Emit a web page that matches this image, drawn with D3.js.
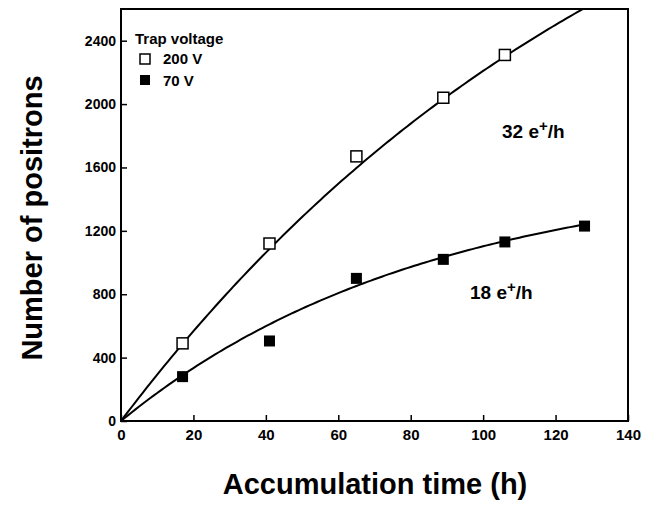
<!DOCTYPE html>
<html><head><meta charset="utf-8">
<script src="https://d3js.org/d3.v7.min.js"></script>
<style>body{margin:0;background:#fff}text{font-family:"Liberation Sans",Arial,sans-serif;font-weight:bold}</style>
</head><body><svg id="c" width="659" height="508"></svg>
<script>
const xTicks = [0,20,40,60,80,100,120,140];
const yTicks = [0,400,800,1200,1600,2000,2400];
const t200 = [17,41,65,89,106];
const n200 = [490,1120,1670,2040,2310];
const t70 = [17,41,65,89,106,128];
const n70 = [280,505,900,1020,1130,1230];
// saturating fits N = A(1 - exp(-t/tau))
const fit200 = {A:4540, tau:150};
const fit70 = {A:1594, tau:85};

const svg = d3.select("#c");
const x = d3.scaleLinear().domain([0,140]).range([121,628]);
const y = d3.scaleLinear().domain([0,2600]).range([421,9]);
const g = svg.append("g");
g.append("rect").attr("x",121).attr("y",9).attr("width",507).attr("height",412)
 .attr("fill","none").attr("stroke","#000").attr("stroke-width",2);
const xa = g.append("g").attr("transform","translate(0,421)").call(d3.axisBottom(x).tickValues(xTicks).tickSize(-6).tickPadding(8).tickFormat(d3.format("d")));
const ya = g.append("g").attr("transform","translate(121,0)").call(d3.axisLeft(y).tickValues(yTicks).tickSize(-6).tickPadding(5).tickFormat(d3.format("d")));
[xa,ya].forEach(a=>{a.select(".domain").remove();a.selectAll("line").attr("stroke-width",1.5);a.selectAll("text").attr("font-size",15).attr("font-family","Liberation Sans").attr("font-weight","bold");});
ya.selectAll("text").attr("font-size",14);

const line = d3.line().x(d=>x(d[0])).y(d=>y(d[1]));
function curve(f,tmax){return d3.range(0,tmax+0.5,1).map(t=>[t,f.A*(1-Math.exp(-t/f.tau))]);}
svg.append("clipPath").attr("id","cp").append("rect").attr("x",121).attr("y",9).attr("width",507).attr("height",412);
g.append("path").attr("d",line(curve(fit200,140))).attr("fill","none").attr("stroke","#000").attr("stroke-width",2).attr("clip-path","url(#cp)");
g.append("path").attr("d",line(curve(fit70,128))).attr("fill","none").attr("stroke","#000").attr("stroke-width",2);

const s=11;
g.selectAll(".o").data(t200.map((t,i)=>[t,n200[i]])).join("rect")
 .attr("x",d=>x(d[0])-s/2).attr("y",d=>y(d[1])-s/2).attr("width",s).attr("height",s)
 .attr("fill","#fff").attr("stroke","#000").attr("stroke-width",1.5);
g.selectAll(".f").data(t70.map((t,i)=>[t,n70[i]])).join("rect")
 .attr("x",d=>x(d[0])-s/2).attr("y",d=>y(d[1])-s/2).attr("width",s).attr("height",s).attr("fill","#000");

g.append("text").attr("x",135).attr("y",44).attr("font-size",15).text("Trap voltage");
g.append("rect").attr("x",140).attr("y",54).attr("width",10).attr("height",10).attr("fill","#fff").attr("stroke","#000").attr("stroke-width",1.5);
g.append("text").attr("x",163).attr("y",64).attr("font-size",15).text("200 V");
g.append("rect").attr("x",140).attr("y",75).attr("width",10).attr("height",10).attr("fill","#000");
g.append("text").attr("x",163).attr("y",86).attr("font-size",15).text("70 V");

function lab(xp,yp,num){const t=g.append("text").attr("x",xp).attr("y",yp).attr("font-size",19);
 t.append("tspan").text(num+" e");t.append("tspan").attr("dy",-7).attr("font-size",15).text("+");
 t.append("tspan").attr("dy",7).text("/h");}
lab(502,138,"32");lab(470,299,"18");

svg.append("text").attr("x",375).attr("y",494).attr("text-anchor","middle").attr("font-size",29).text("Accumulation time (h)");
svg.append("text").attr("transform","translate(42,218) rotate(-90)").attr("text-anchor","middle").attr("font-size",29).text("Number of positrons");
</script></body></html>
